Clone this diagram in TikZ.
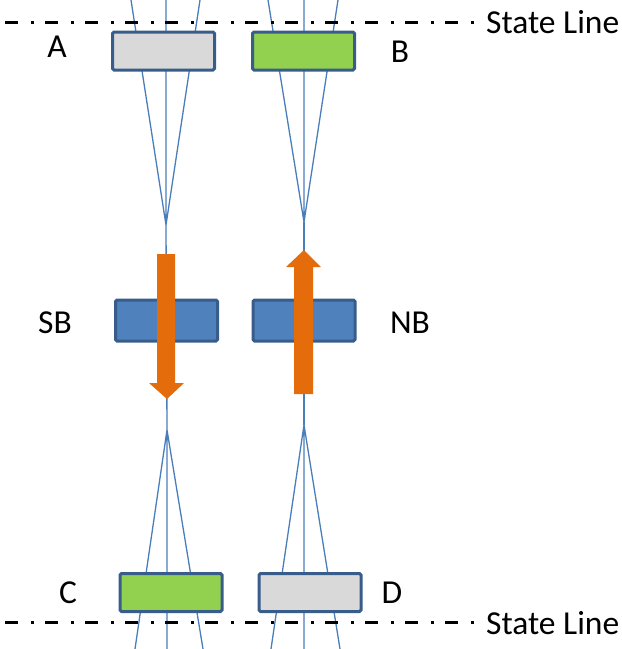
\documentclass[tikz,border=0pt]{standalone}
\usepackage{fontspec}
\setmainfont{Carlito}
\definecolor{boxedge}{RGB}{56,93,138}
\definecolor{nbfill}{RGB}{79,129,189}
\definecolor{raycol}{RGB}{74,126,187}
\definecolor{orng}{RGB}{228,108,10}
\definecolor{grn}{RGB}{146,208,80}
\definecolor{gry}{RGB}{217,217,217}
\begin{document}
\begin{tikzpicture}[x=1pt,y=-1pt,
  statebox/.style={draw=boxedge,line width=3pt,rounded corners=1.5pt,minimum width=102pt,minimum height=38pt,inner sep=0pt},
  ray/.style={draw=raycol,line width=1.3pt},
  stateline/.style={line width=3pt,dash pattern=on 13pt off 13pt on 3pt off 11pt},
  lbl/.style={font=\fontsize{33.5}{38}\selectfont,inner sep=0pt},
  orarrow/.style={fill=orng}]
\useasboundingbox (0,0) rectangle (622,649);
% focal points
\coordinate (fa) at (166,225);
\coordinate (fb) at (304,222);
\coordinate (fc) at (167,430);
\coordinate (fd) at (304,425);
% ray ends
\coordinate (a1) at (131,0); \coordinate (a2) at (166,0); \coordinate (a3) at (200,0);
\coordinate (b1) at (268,0); \coordinate (b2) at (304,0); \coordinate (b3) at (338,0);
\coordinate (c1) at (135,649); \coordinate (c2) at (167,649); \coordinate (c3) at (203,649);
\coordinate (d1) at (271,649); \coordinate (d2) at (304,649); \coordinate (d3) at (340,649);
\draw[ray] (a1) -- (fa) (a2) -- (fa) (a3) -- (fa);
\draw[ray] (b1) -- (fb) (b2) -- (fb) (b3) -- (fb);
\draw[ray] (c1) -- (fc) (c2) -- (fc) (c3) -- (fc);
\draw[ray] (d1) -- (fd) (d2) -- (fd) (d3) -- (fd);
\draw[ray] (fa) -- (fc);
\draw[ray] (fb) -- (fd);
% state lines
\coordinate (sl1) at (5,22); \coordinate (sl2) at (478,22);
\coordinate (sl3) at (5,622); \coordinate (sl4) at (478,622);
\draw[stateline] (sl1) -- (sl2);
\draw[stateline] (sl3) -- (sl4);
\node[lbl,anchor=west] (st1) at (486,22) {State Line};
\node[lbl,anchor=west] (st2) at (486,623) {State Line};
% boxes
\node[statebox,fill=gry] (A) at (163.5,51) {};
\node[statebox,fill=grn] (B) at (303.5,51) {};
\node[statebox,fill=nbfill,minimum height=41pt] (SB) at (166.5,320.5) {};
\node[statebox,fill=nbfill,minimum height=41pt] (NB) at (304,320.5) {};
\node[statebox,fill=grn] (C) at (171,592.5) {};
\node[statebox,fill=gry] (D) at (310,592.5) {};
% orange arrows
\fill[orarrow] (157,254) -- (175,254) -- (175,383) -- (184,383) -- (167,399) -- (149,383) -- (157,383) -- cycle;
\fill[orarrow] (294,394) -- (313,394) -- (313,267) -- (321,267) -- (304,250) -- (286,267) -- (294,267) -- cycle;
% labels
\node[lbl] (lA) at (57,47) {A};
\node[lbl] (lB) at (400,52) {B};
\node[lbl] (lSB) at (55,323) {SB};
\node[lbl] (lNB) at (410,323) {NB};
\node[lbl] (lC) at (68,593) {C};
\node[lbl] (lD) at (392,593) {D};
\end{tikzpicture}
\end{document}
